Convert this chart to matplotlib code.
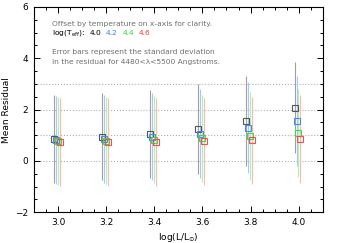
import matplotlib
matplotlib.use("Agg")
import matplotlib.pyplot as plt
from matplotlib.ticker import MultipleLocator

# luminosity bins (x) and temperature groups
log_l = [3.0, 3.2, 3.4, 3.6, 3.8, 4.0]
log_teff = ["4.0", "4.2", "4.4", "4.6"]

# mean residual for each temperature, per luminosity bin
mean_t40 = [0.865, 0.94, 1.045, 1.245, 1.555, 2.075]
mean_t42 = [0.82, 0.86, 0.94, 1.06, 1.295, 1.555]
mean_t44 = [0.785, 0.795, 0.835, 0.885, 0.97, 1.085]
mean_t46 = [0.735, 0.735, 0.75, 0.765, 0.81, 0.85]

# standard deviation of the residual
sd_t40 = [1.705, 1.70, 1.725, 1.745, 1.765, 1.765]
sd_t42 = [1.71, 1.70, 1.70, 1.74, 1.765, 1.765]
sd_t44 = [1.705, 1.695, 1.695, 1.685, 1.70, 1.715]
sd_t46 = [1.705, 1.705, 1.72, 1.705, 1.70, 1.71]

means = [mean_t40, mean_t42, mean_t44, mean_t46]
sds = [sd_t40, sd_t42, sd_t44, sd_t46]

x_offsets = [-0.017, -0.009, -0.002, 0.006]
bar_colors = ["#a0a0a0", "#a4c8ff", "#b0f0b0", "#ffb8b0"]
box_colors = ["#555555", "#4a8af0", "#40d840", "#f05050"]
label_colors = ["black", "#3a7ef5", "#30d830", "#f03c3c"]

fig = plt.figure(figsize=(3.39, 2.43), dpi=100)
ax = fig.add_axes([0.1003, 0.1263, 0.8517, 0.845])

for y in [0, 1, 2, 3]:
    ax.axhline(y, color="#b0b0b0", linestyle=":", linewidth=0.8, zorder=1)

for i in range(len(log_teff)):
    xs = [v + x_offsets[i] for v in log_l]
    ax.errorbar(xs, means[i], yerr=sds[i], fmt="none", ecolor=bar_colors[i],
                elinewidth=0.8, capsize=0, zorder=2)
for i in range(len(log_teff)):
    xs = [v + x_offsets[i] for v in log_l]
    ax.plot(xs, means[i], "s", markersize=4.5, markerfacecolor="none",
            markeredgecolor=box_colors[i], markeredgewidth=0.8, zorder=3)

ax.set_xlim(2.9, 4.1)
ax.set_ylim(-2, 6)
ax.xaxis.set_major_locator(MultipleLocator(0.2))
ax.xaxis.set_minor_locator(MultipleLocator(0.05))
ax.yaxis.set_major_locator(MultipleLocator(2))
ax.yaxis.set_minor_locator(MultipleLocator(0.5))
ax.tick_params(which="both", direction="in", top=True, right=True,
               labelsize=6.5, width=0.7, pad=4)
ax.tick_params(which="major", length=4)
ax.tick_params(which="minor", length=2)
ax.set_xticklabels([f"{v:.1f}" for v in ax.get_xticks()])
for s in ax.spines.values():
    s.set_linewidth(0.8)

ax.set_xlabel(r"log(L/L$_{\odot}$)", fontsize=6.5, labelpad=3)
ax.set_ylabel("Mean Residual", fontsize=6.5)
ax.yaxis.set_label_coords(-0.078, 0.5)

txt = "#707070"
fs = 5.4
fig.text(52 / 339, 1 - 23.5 / 243, "Offset by temperature on x-axis for clarity.",
         fontsize=fs, color=txt, va="center")
fig.text(52 / 339, 1 - 33 / 243, r"log(T$_{\rm eff}$):", fontsize=fs,
         color="black", va="center")
label_x = [90, 106, 122.5, 139]
for k, lab in enumerate(log_teff):
    fig.text(label_x[k] / 339, 1 - 33 / 243, lab, fontsize=fs,
             color=label_colors[k], va="center")
fig.text(52 / 339, 1 - 52 / 243, "Error bars represent the standard deviation",
         fontsize=fs, color=txt, va="center")
fig.text(52 / 339, 1 - 62 / 243,
         "in the residual for 4480<\u03bb<5500 Angstroms.",
         fontsize=fs, color=txt, va="center")

fig.savefig("out.png", dpi=100)
